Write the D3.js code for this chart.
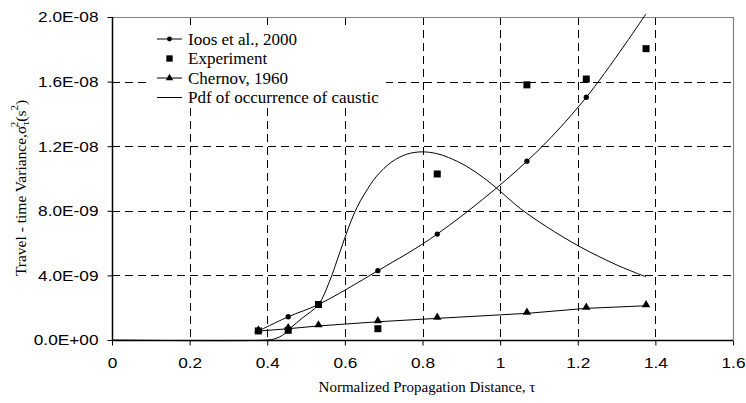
<!DOCTYPE html>
<html lang="en">
<head>
    <meta charset="UTF-8">
    <title>Travel-time Variance</title>
    <script src="https://d3js.org/d3.v7.min.js"></script>
    <style>
        body { margin: 0; background: #fff; }
        svg { display: block; }
        .tick-label { font-family: "Liberation Sans", Arial, sans-serif; font-size: 15px; fill: #000; }
        .serif { font-family: "Liberation Serif", "Times New Roman", serif; fill: #000; }
    </style>
</head>
<body>
    <div id="chart"></div>
    <script>
        // Data
        const tau = [0.377, 0.454, 0.532, 0.685, 0.838, 1.069, 1.222, 1.376];
        const ioos = [0.55e-9, 1.44e-9, 2.2e-9, 4.29e-9, 6.56e-9, 11.07e-9, 15.03e-9, 20.2e-9];
        const experiment = [0.56e-9, 0.6e-9, 2.2e-9, 0.7e-9, 10.28e-9, 15.8e-9, 16.16e-9, 18.04e-9];
        const chernov = [0.55e-9, 0.7e-9, 0.87e-9, 1.13e-9, 1.34e-9, 1.65e-9, 1.96e-9, 2.12e-9];

        // Pdf of occurrence of caustic (scaled curve)
        const pdfTau = [0, 0.40, 0.42, 0.44, 0.46, 0.49, 0.532, 0.56, 0.588, 0.61, 0.631, 0.652, 0.682, 0.721,
                        0.759, 0.798, 0.837, 0.867, 0.914, 0.957, 0.991, 1.052, 1.12, 1.206, 1.301, 1.376];
        const pdfVal = [0, 0, 0.08e-9, 0.3e-9, 0.75e-9, 1.35e-9, 2.2e-9, 3.6e-9, 5.5e-9, 7.0e-9, 8.2e-9, 9.1e-9, 10.15e-9, 11.03e-9,
                        11.5e-9, 11.65e-9, 11.54e-9, 11.3e-9, 10.75e-9, 10.05e-9, 9.4e-9, 8.14e-9, 7.01e-9, 5.77e-9, 4.64e-9, 3.91e-9];

        const xTicks = [0, 0.2, 0.4, 0.6, 0.8, 1, 1.2, 1.4, 1.6];
        const yTicks = [0, 4e-9, 8e-9, 12e-9, 16e-9, 20e-9];

        const legendItems = [
            { label: "Ioos et al., 2000", line: true, marker: "circle" },
            { label: "Experiment", line: false, marker: "square" },
            { label: "Chernov, 1960", line: true, marker: "triangle" },
            { label: "Pdf of occurrence of caustic", line: true, marker: null }
        ];

        const width = 746, height = 403;
        const margin = { left: 112, right: 13, top: 17, bottom: 63 };
        const stretch = 1.15; // tick font in the original is drawn wider than Arial

        const svg = d3.select("#chart").append("svg")
            .attr("width", width)
            .attr("height", height);

        const x = d3.scaleLinear().domain([0, 1.6]).range([margin.left, width - margin.right]);
        const y = d3.scaleLinear().domain([0, 2e-8]).range([height - margin.bottom, margin.top]);

        function sci(v) {
            if (v === 0) return "0.0E+00";
            const e = Math.floor(Math.log10(Math.abs(v)) + 1e-9);
            const m = v / Math.pow(10, e);
            const sign = e < 0 ? "-" : "+";
            return m.toFixed(1) + "E" + sign + String(Math.abs(e)).padStart(2, "0");
        }

        // Gridlines
        const grid = svg.append("g").attr("stroke", "#000").attr("stroke-width", 1).attr("stroke-dasharray", "8,5");
        grid.selectAll(".vgrid").data(xTicks.filter(d => d > 0 && d < 1.6)).enter().append("line")
            .attr("x1", d => Math.round(x(d)) + 0.5).attr("x2", d => Math.round(x(d)) + 0.5)
            .attr("y1", y(2e-8)).attr("y2", y(0));
        grid.selectAll(".hgrid").data(yTicks.filter(d => d > 0 && d < 2e-8)).enter().append("line")
            .attr("x1", x(0)).attr("x2", x(1.6))
            .attr("y1", d => Math.round(y(d)) + 0.5).attr("y2", d => Math.round(y(d)) + 0.5);

        // Plot area border (top and right)
        svg.append("path")
            .attr("d", `M${x(0)},${Math.round(y(2e-8)) + 0.5}H${Math.round(x(1.6)) + 0.5}V${y(0)}`)
            .attr("fill", "none").attr("stroke", "#808080").attr("stroke-width", 1.2);

        // Axes
        const yAxis = svg.append("g")
            .attr("transform", `translate(${Math.round(x(0)) + 0.5},0)`)
            .call(d3.axisLeft(y).tickValues(yTicks).tickSize(5).tickFormat(sci));
        const xAxis = svg.append("g")
            .attr("transform", `translate(0,${Math.round(y(0)) + 0.5})`)
            .call(d3.axisBottom(x).tickValues(xTicks).tickSize(5).tickPadding(12).tickFormat(d3.format("")));
        [xAxis, yAxis].forEach(a => {
            a.attr("font-size", null).attr("font-family", null);
            a.select(".domain").attr("stroke", "#000").attr("stroke-width", 1.5);
            a.selectAll(".tick line").attr("stroke", "#000");
            a.selectAll(".tick text").attr("class", "tick-label").attr("fill", "#000");
        });
        yAxis.selectAll(".tick text").attr("x", -14 / stretch).attr("transform", `scale(${stretch},1)`);
        xAxis.selectAll(".tick text").attr("transform", `scale(${stretch},1)`);
        yAxis.select(".domain").attr("d", `M0,${y(2e-8)}V${y(0)}`);
        xAxis.select(".domain").attr("d", `M${x(0)},0H${x(1.6)}`);

        // Series
        const plot = svg.append("g");
        const smooth = d3.line().x(d => x(d[0])).y(d => y(d[1])).curve(d3.curveCatmullRom.alpha(0.5));

        plot.append("path")
            .datum(d3.zip(pdfTau, pdfVal))
            .attr("d", smooth)
            .attr("fill", "none").attr("stroke", "#000").attr("stroke-width", 1);

        plot.append("path")
            .datum(d3.zip(tau, ioos))
            .attr("d", smooth)
            .attr("fill", "none").attr("stroke", "#000").attr("stroke-width", 1);

        plot.append("path")
            .datum(d3.zip(tau, chernov))
            .attr("d", d3.line().x(d => x(d[0])).y(d => y(d[1])))
            .attr("fill", "none").attr("stroke", "#000").attr("stroke-width", 1);

        const sym = {
            circle: d3.symbol().type(d3.symbolCircle).size(22),
            square: d3.symbol().type(d3.symbolSquare).size(49),
            triangle: d3.symbol().type(d3.symbolTriangle).size(30)
        };

        // Ioos markers (last one sits above the plot top, so it is left out)
        plot.selectAll(".ioos").data(d3.zip(tau, ioos).filter(d => d[1] <= 2e-8)).enter().append("path")
            .attr("d", sym.circle).attr("transform", d => `translate(${x(d[0])},${y(d[1])})`).attr("fill", "#000");
        plot.selectAll(".exp").data(d3.zip(tau, experiment)).enter().append("path")
            .attr("d", sym.square).attr("transform", d => `translate(${x(d[0])},${y(d[1])})`).attr("fill", "#000");
        plot.selectAll(".chern").data(d3.zip(tau, chernov)).enter().append("path")
            .attr("d", sym.triangle).attr("transform", d => `translate(${x(d[0])},${y(d[1]) - 1})`).attr("fill", "#000");

        // Legend (white box hides the grid behind it)
        svg.append("rect")
            .attr("x", 150).attr("y", 26).attr("width", 236).attr("height", 80)
            .attr("fill", "#fff");
        const legend = svg.append("g").attr("transform", "translate(157,39)");
        const rows = legend.selectAll("g").data(legendItems).enter().append("g")
            .attr("transform", (d, i) => `translate(0,${i * 19.5})`);
        rows.filter(d => d.line).append("line")
            .attr("x1", 0).attr("x2", 25).attr("y1", 0).attr("y2", 0)
            .attr("stroke", "#000").attr("stroke-width", 1);
        rows.filter(d => d.marker).append("path")
            .attr("d", d => d3.symbol().type({ circle: d3.symbolCircle, square: d3.symbolSquare, triangle: d3.symbolTriangle }[d.marker])
                .size(d.marker === "square" ? 40 : d.marker === "circle" ? 18 : 24)())
            .attr("transform", "translate(12.5,0)").attr("fill", "#000");
        rows.append("text")
            .attr("class", "serif")
            .attr("x", 31).attr("y", 5.5)
            .attr("font-size", "17px")
            .text(d => d.label);

        // Axis titles
        svg.append("text")
            .attr("class", "serif")
            .attr("x", 427).attr("y", 392)
            .attr("text-anchor", "middle")
            .attr("font-size", "15px")
            .text("Normalized Propagation Distance, τ");

        const yt = svg.append("text")
            .attr("class", "serif")
            .attr("transform", "translate(26,188) rotate(-90)")
            .attr("text-anchor", "middle")
            .attr("font-size", "15.5px");
        yt.append("tspan").text("Travel - time Variance,σ");
        yt.append("tspan").attr("font-size", "11px").attr("dy", 3).text("τ");
        yt.append("tspan").attr("font-size", "11px").attr("dx", -6).attr("dy", -11).text("2");
        yt.append("tspan").attr("dy", 8).text("(s");
        yt.append("tspan").attr("font-size", "11px").attr("dy", -8).text("2");
        yt.append("tspan").attr("dy", 8).text(")");
    </script>
</body>
</html>
